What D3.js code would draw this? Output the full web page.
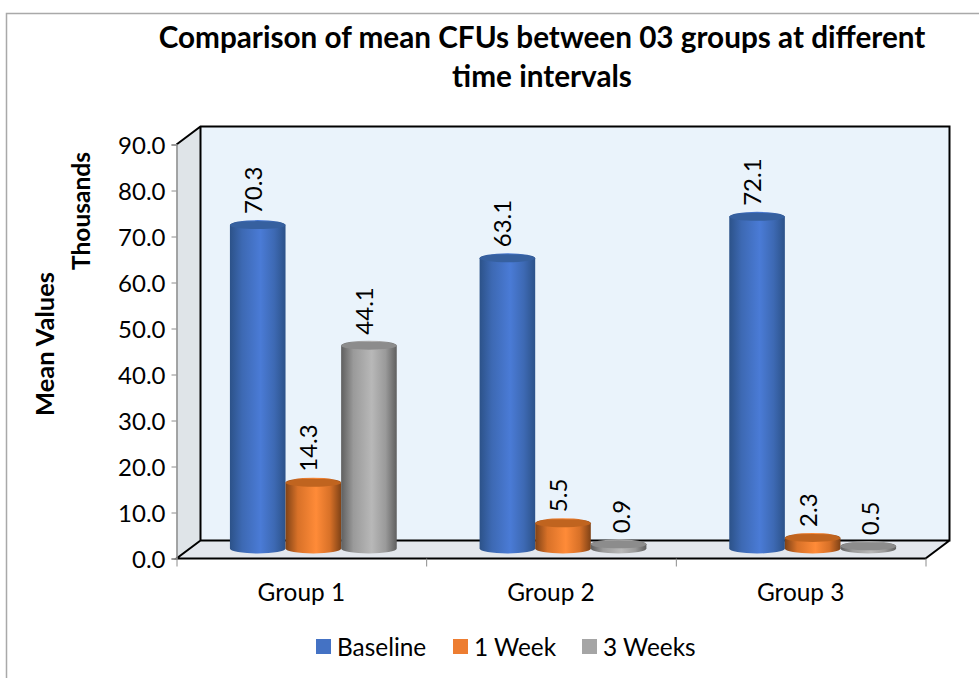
<!DOCTYPE html>
<html><head><meta charset="utf-8">
<script src="https://cdn.jsdelivr.net/npm/d3@7"></script>
<style>html,body{margin:0;padding:0;background:#fff}svg{display:block}text{font-family:Lato,"Open Sans",sans-serif;fill:#000}</style>
</head><body><svg id="c" width="979" height="678"></svg>
<script>
const groups = ["Group 1","Group 2","Group 3"];
const seriesNames = ["Baseline","1 Week","3 Weeks"];
const baseline = [70.3,63.1,72.1];
const week1 = [14.3,5.5,2.3];
const week3 = [44.1,0.9,0.5];
const seriesValues = [baseline,week1,week3];
const yTicks = [0,10,20,30,40,50,60,70,80,90];
const colors = {
  legend:["#4472c4","#ed7d31","#a5a5a5"],
  dark:["#2c5289","#7f4216","#5f5f5f"],
  mid:["#3d69b3","#d87128","#9a9a9a"],
  light:["#4a7bd6","#ff8b38","#b8b8b8"],
  top:["#36609f","#c0641f","#8c8c8c"]
};

const svg = d3.select("#c");
const L=176.5,R=925.5,T=144.5,B=558.5,dx=24,dy=-18;
const y = d3.scaleLinear().domain([0,90]).range([B,T]);
const x0 = d3.scaleBand().domain(groups).range([L,R]);
const x1 = d3.scaleBand().domain(seriesNames).range([0,x0.bandwidth()]).paddingInner(0).paddingOuter(0.745);

// frame
svg.append("path").attr("d","M6.5,678V13.5H979").attr("fill","none").attr("stroke","#a9a9a9").attr("stroke-width",1.5);

// gradients
const defs = svg.append("defs");
colors.dark.forEach((d,i)=>{
  const g = defs.append("linearGradient").attr("id","g"+i);
  [[0,colors.dark[i]],[.22,colors.mid[i]],[.55,colors.light[i]],[.8,colors.mid[i]],[1,colors.dark[i]]]
    .forEach(s=>g.append("stop").attr("offset",s[0]).attr("stop-color",s[1]));
});

// walls
svg.append("path").attr("d",`M${L},${T}L${L+dx},${T+dy}V${B+dy}L${L},${B}Z`).attr("fill","#dfe4e8");
svg.append("path").attr("d",`M${L},${B}L${L+dx},${B+dy}H${R+dx}L${R},${B}Z`).attr("fill","#e3e7ed");
svg.append("rect").attr("x",L+dx).attr("y",T+dy).attr("width",R-L).attr("height",B-T).attr("fill","#eaf3fb");
svg.append("path").attr("d",`M${L},${T}L${L+dx},${T+dy}H${R+dx}V${B+dy}H${L+dx}V${T+dy}M${L+dx},${B+dy}L${L},${B}H${R}L${R+dx},${B+dy}`)
  .attr("fill","none").attr("stroke","#000").attr("stroke-width",2);

// axes
const yAxis = d3.axisLeft(y).tickValues(yTicks).tickFormat(d3.format(".1f")).tickSize(5).tickPadding(6);
const gy = svg.append("g").attr("transform",`translate(${L},0)`).call(yAxis);
gy.select(".domain").attr("stroke","#8c8c8c").attr("stroke-width",1.5);
gy.selectAll("line").attr("stroke","#8c8c8c");
gy.selectAll("text").attr("font-size",24).attr("font-family",null).attr("y",1.5);

const xTickScale = d3.scaleLinear().domain([0,groups.length]).range([L,R]);
const xAxis = d3.axisBottom(xTickScale).tickValues(d3.range(groups.length+1)).tickFormat("").tickSize(8).tickSizeOuter(0);
const gx = svg.append("g").attr("transform",`translate(0,${B})`).call(xAxis);
gx.select(".domain").remove();
gx.selectAll("line").attr("stroke","#8c8c8c");

svg.append("g").selectAll("text").data(groups).join("text")
  .attr("x",d=>x0(d)+x0.bandwidth()/2).attr("y",601).attr("text-anchor","middle").attr("font-size",24.4).text(d=>d);

// bars
const baseY = B-10, rx = x1.bandwidth()/2, ry = 5;
const h = v=>y(0)-y(v);
seriesNames.forEach((s,i)=>{
  groups.forEach((gname,j)=>{
    const v = seriesValues[i][j];
    const cx = x0(gname)+x1(s)+rx+12;
    const top = baseY-h(v);
    const g = svg.append("g");
    g.append("path").attr("d",`M${cx-rx},${top}A${rx},${ry} 0 0 1 ${cx+rx},${top}V${baseY}A${rx},${ry} 0 0 1 ${cx-rx},${baseY}Z`)
      .attr("fill",`url(#g${i})`);
    g.append("ellipse").attr("cx",cx).attr("cy",top).attr("rx",rx).attr("ry",ry-1).attr("fill",colors.top[i]);
    // the labels of the flattest discs sit slightly right of the others, as in the source
    const lx = v < 1 ? cx+11 : cx+4;
    g.append("text").attr("transform",`translate(${lx},${top-11}) rotate(-90)`)
      .attr("font-size",24).text(d3.format(".1f")(v));
  });
});

// titles
const title = svg.append("text").attr("text-anchor","middle").attr("font-size",29.7).attr("font-weight",700);
title.append("tspan").attr("x",542).attr("y",48).text("Comparison of mean CFUs between 03 groups at different");
title.append("tspan").attr("x",542).attr("y",87).text("time intervals");
svg.append("text").attr("transform","translate(54,344) rotate(-90)").attr("text-anchor","middle").attr("font-size",25.5).attr("font-weight",700).text("Mean Values");
svg.append("text").attr("transform","translate(90,211) rotate(-90)").attr("text-anchor","middle").attr("font-size",24.5).attr("font-weight",700).text("Thousands");

// legend
const legendX = [316,453,582];
const lg = svg.append("g").selectAll("g").data(seriesNames).join("g").attr("transform",(d,i)=>`translate(${legendX[i]},639)`);
lg.append("rect").attr("width",15).attr("height",15).attr("fill",(d,i)=>colors.legend[i]);
lg.append("text").attr("x",21).attr("y",17).attr("font-size",24.4).text(d=>d);
</script></body></html>
